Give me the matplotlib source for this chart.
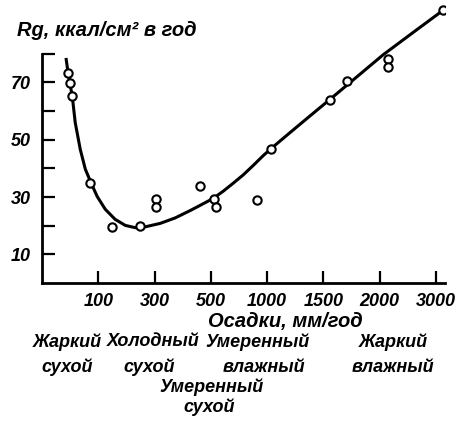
import matplotlib
matplotlib.use("Agg")
import matplotlib.pyplot as plt
import numpy as np

plt.rcParams['font.family'] = ['Liberation Sans', 'DejaVu Sans']
plt.rcParams['font.style'] = 'italic'
plt.rcParams['font.weight'] = 'bold'

# ось осадков: деления стоят через равные промежутки
tick_mm = [100, 300, 500, 1000, 1500, 2000, 3000]
tick_labels = ['100', '300', '500', '1000', '1500', '2000', '3000']
scale_mm = [0, 100, 300, 500, 1000, 1500, 2000, 3000, 4000]
scale_pos = [0, 1, 2, 3, 4, 5, 6, 7, 8]

# наблюдения: осадки (мм/год) и Rg (ккал/см² в год)
obs_mm = [47, 49, 53, 86, 150, 250, 305, 305, 460, 530, 545, 910,
          1035, 1560, 1705, 2140, 2140, 3130]
obs_rg = [73.1, 69.9, 65.2, 35.0, 19.6, 19.9, 29.3, 26.5, 33.8, 29.3,
          26.4, 28.8, 46.9, 63.8, 70.5, 78.3, 75.3, 95.2]

# сглаженная кривая
curve_mm = [43, 46, 50, 54, 59, 68, 77, 87, 98, 125, 160, 196, 231, 267,
            320, 373, 427, 462, 520, 609, 698, 787, 876, 964, 1035, 1204,
            1381, 1559, 1790, 2059, 2592, 3129]
curve_rg = [78.0, 73.8, 69.3, 64.8, 56.0, 46.6, 39.7, 35.0, 30.2, 25.7,
            22.2, 20.1, 19.3, 19.6, 20.8, 22.7, 25.3, 27.1, 29.5, 32.0,
            34.8, 37.7, 41.0, 44.4, 46.9, 52.5, 58.3, 64.1, 71.7, 79.6,
            87.4, 95.2]

# климатические зоны (две строки подписи)
zone_line1 = ['Жаркий', 'Холодный', 'Умеренный', 'Жаркий', 'Умеренный']
zone_line2 = ['сухой', 'сухой', 'влажный', 'влажный', 'сухой']
zone_x1 = [67, 153, 258, 393, 212]
zone_x2 = [67, 149, 264, 393, 209]
zone_y1 = [342, 342, 342, 342, 387]
zone_y2 = [367, 367, 367, 367, 407]


def fwd(x):
    return np.interp(x, scale_mm, scale_pos)


def inv(p):
    return np.interp(p, scale_pos, scale_mm)


W, H = 463, 422
fig = plt.figure(figsize=(W / 100, H / 100), dpi=100)
ax = fig.add_axes([42 / W, (H - 283) / H, (445 - 42) / W, (283 - 5) / H])
ax.set_xscale('function', functions=(fwd, inv))
ax.set_xlim(0, inv(7.16))
ax.set_ylim(0, 97)

ax.plot(curve_mm, curve_rg, color='black', lw=2.2, zorder=2)
ax.plot(obs_mm, obs_rg, 'o', ms=6, mfc='white', mec='black', mew=1.5,
        zorder=3)

for s in ['top', 'right']:
    ax.spines[s].set_visible(False)
ax.spines['left'].set_bounds(0, 80)
for s in ['left', 'bottom']:
    ax.spines[s].set_linewidth(2)

ax.set_xticks(tick_mm)
ax.set_xticklabels(tick_labels)
ax.set_xticks([], minor=True)
ax.set_yticks(range(10, 81, 10))
ax.set_yticklabels(['10', '', '30', '', '50', '', '70', ''])
ax.tick_params(direction='in', length=9, width=1.6, labelsize=13)
ax.tick_params(axis='x', pad=7)
ax.tick_params(axis='y', pad=8)

fig.text(17 / W, 1 - 30 / H, 'Rg, ккал/см² в год', fontsize=14.5,
         ha='left', va='center')
fig.text(285 / W, 1 - 322 / H, 'Осадки, мм/год', fontsize=14.5,
         ha='center', va='center')
for t1, t2, x1, x2, y1, y2 in zip(zone_line1, zone_line2, zone_x1,
                                  zone_x2, zone_y1, zone_y2):
    fig.text(x1 / W, 1 - y1 / H, t1, fontsize=13, ha='center', va='center')
    fig.text(x2 / W, 1 - y2 / H, t2, fontsize=13, ha='center', va='center')

fig.savefig('out.png', dpi=100)
